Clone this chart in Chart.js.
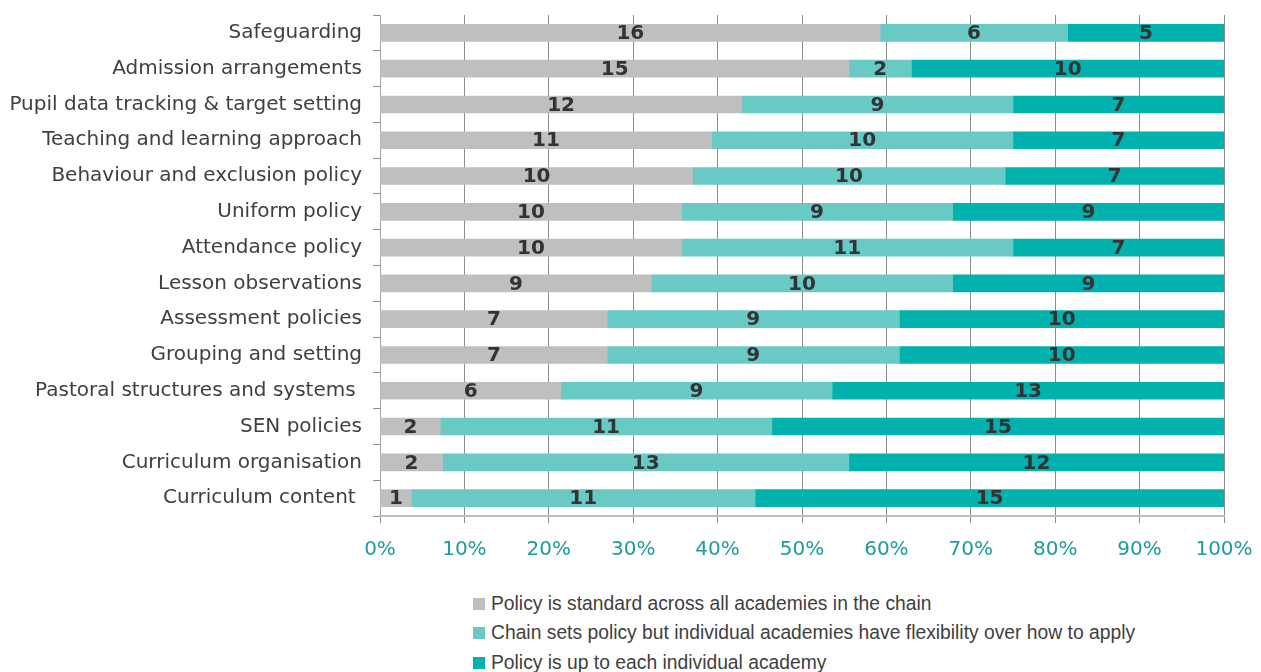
<!DOCTYPE html>
<html>
<head>
<meta charset="utf-8">
<script src="https://cdn.jsdelivr.net/npm/chart.js@4/dist/chart.umd.min.js"></script>
<style>
  html, body { margin: 0; padding: 0; background: #fff; }
  #wrap { position: relative; width: 1261px; height: 672px; overflow: hidden; }
  #legend { position: absolute; left: 473px; top: 589px; font-family: "Liberation Sans", sans-serif; font-size: 19.3px; color: #404040; }
  #legend div { height: 29.5px; display: flex; align-items: center; white-space: nowrap; }
  #legend span.box { display: inline-block; width: 12px; height: 12px; margin-right: 6px; }
</style>
</head>
<body>
<div id="wrap">
  <canvas id="c" width="1261" height="577"></canvas>
  <div id="legend"></div>
</div>
<script>
const categories = [
  "Safeguarding",
  "Admission arrangements",
  "Pupil data tracking & target setting",
  "Teaching and learning approach",
  "Behaviour and exclusion policy",
  "Uniform policy",
  "Attendance policy",
  "Lesson observations",
  "Assessment policies",
  "Grouping and setting",
  "Pastoral structures and systems ",
  "SEN policies",
  "Curriculum organisation",
  "Curriculum content "
];
const standardCounts   = [16, 15, 12, 11, 10, 10, 10, 9, 7, 7, 6, 2, 2, 1];
const flexibleCounts   = [6, 2, 9, 10, 10, 9, 11, 10, 9, 9, 9, 11, 13, 11];
const individualCounts = [5, 10, 7, 7, 7, 9, 7, 9, 10, 10, 13, 15, 12, 15];
const seriesLabels = [
  "Policy is standard across all academies in the chain",
  "Chain sets policy but individual academies have flexibility over how to apply",
  "Policy is up to each individual academy"
];
const seriesColors = ["#BFBFBF", "#69C9C5", "#00B1AD"];
const tickValues = [0, 10, 20, 30, 40, 50, 60, 70, 80, 90, 100];

const allCounts = [standardCounts, flexibleCounts, individualCounts];
const totals = categories.map((_, i) => allCounts.reduce((s, a) => s + a[i], 0));
const toPct = arr => arr.map((v, i) => v / totals[i] * 100);

const datasets = allCounts.map((arr, k) => ({
  label: seriesLabels[k],
  data: toPct(arr),
  counts: arr,
  backgroundColor: seriesColors[k],
  borderWidth: 0,
  barThickness: 17
}));

const labelPlugin = {
  id: 'segLabels',
  afterDatasetsDraw(chart) {
    const ctx = chart.ctx;
    ctx.save();
    ctx.font = 'bold 20px "DejaVu Sans", sans-serif';
    ctx.fillStyle = '#333333';
    ctx.textAlign = 'center';
    ctx.textBaseline = 'middle';
    chart.data.datasets.forEach((ds, di) => {
      const meta = chart.getDatasetMeta(di);
      meta.data.forEach((el, i) => {
        const cx = (el.x + el.base) / 2;
        ctx.fillText(String(ds.counts[i]), cx, el.y + 1);
      });
    });
    ctx.restore();
  }
};

new Chart(document.getElementById('c'), {
  type: 'bar',
  data: { labels: categories, datasets },
  options: {
    indexAxis: 'y',
    responsive: false,
    animation: false,
    layout: { padding: { top: 15, right: 37, left: 0, bottom: 0 } },
    plugins: { legend: { display: false }, tooltip: { enabled: false } },
    scales: {
      x: {
        stacked: true,
        min: 0, max: 100,
        afterBuildTicks(scale) { scale.ticks = tickValues.map(v => ({ value: v })); },
        afterFit(scale) { scale.paddingLeft = 0; scale.paddingRight = 0; },
        grid: { color: '#8C8C8C', lineWidth: 1, tickLength: 7, drawTicks: true },
        border: { color: '#BFBFBF', width: 2 },
        ticks: {
          padding: 15,
          color: '#1E9C9C',
          font: { family: '"DejaVu Sans", sans-serif', size: 20 },
          callback: v => v + '%'
        }
      },
      y: {
        stacked: true,
        afterFit(scale) { scale.width = 380; scale.paddingTop = 0; scale.paddingBottom = 0; },
        grid: { offset: true, drawOnChartArea: false, color: '#8C8C8C', tickLength: 7 },
        border: { color: '#A6A6A6', width: 1 },
        ticks: {
          padding: 11,
          color: '#404040',
          font: { family: '"DejaVu Sans", sans-serif', size: 20 }
        }
      }
    }
  },
  plugins: [labelPlugin]
});

const leg = document.getElementById('legend');
seriesLabels.forEach((t, k) => {
  const d = document.createElement('div');
  const b = document.createElement('span');
  b.className = 'box';
  b.style.background = seriesColors[k];
  d.appendChild(b);
  d.appendChild(document.createTextNode(t));
  leg.appendChild(d);
});
</script>
</body>
</html>
